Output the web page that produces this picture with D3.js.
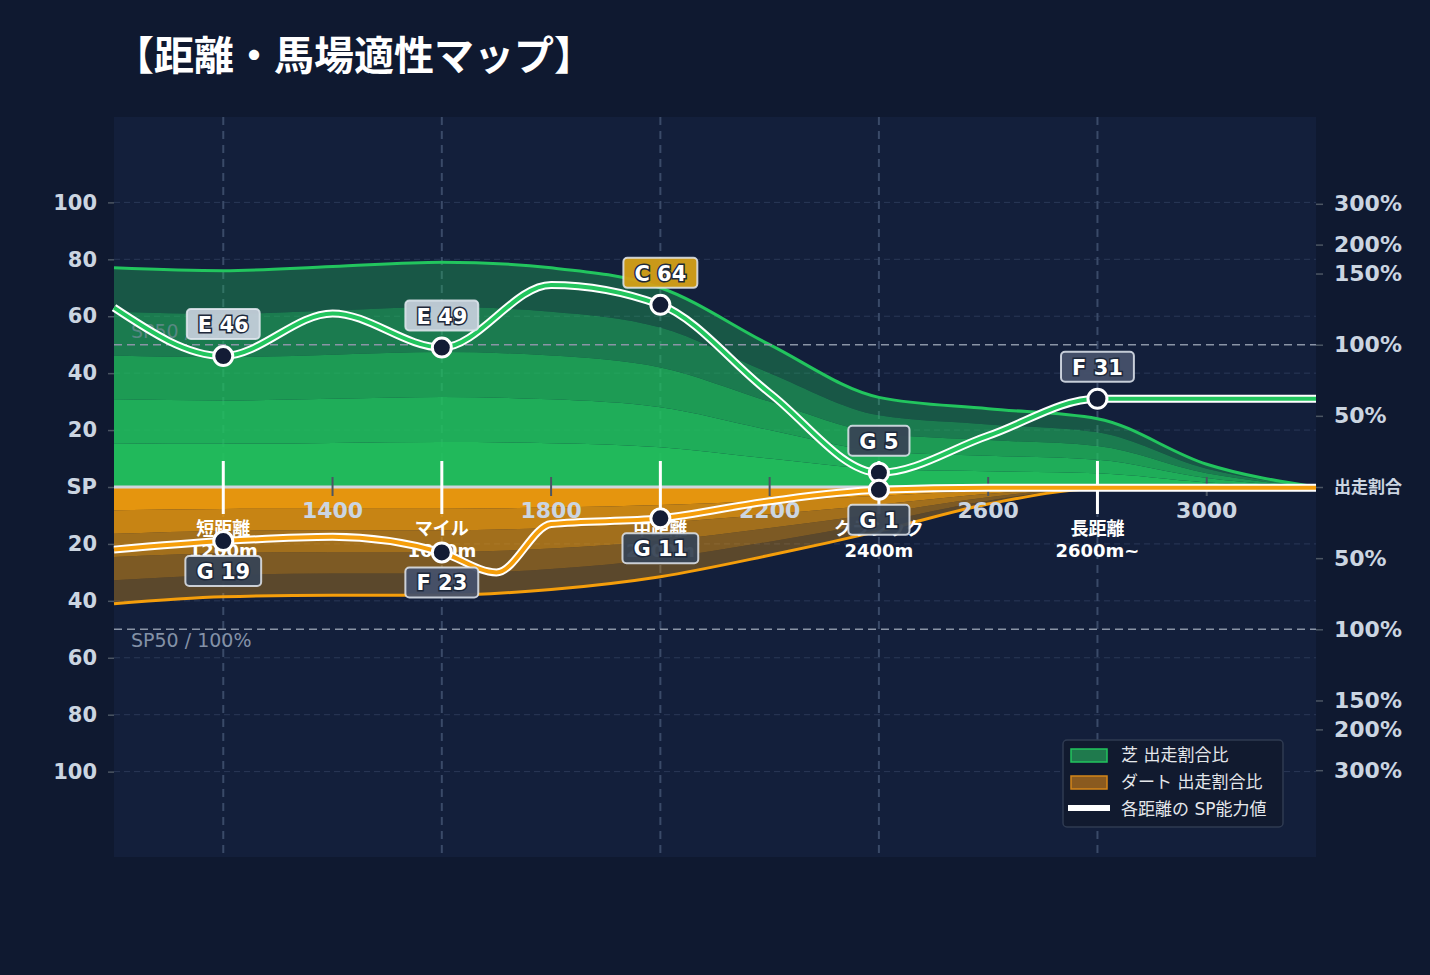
<!DOCTYPE html>
<html>
<head>
<meta charset="utf-8">
<title>距離・馬場適性マップ</title>
<script src="https://d3js.org/d3.v7.min.js"></script>
<style>
  body { margin: 0; background: #0f1930; }
  text { font-family: "DejaVu Sans", "Noto Sans CJK JP", sans-serif; }
  .axis path { display: none; }
  .axis line { stroke: #4b5563; stroke-width: 1.5; }
  .axis text { fill: #cbd5e1; font-weight: bold; }
</style>
</head>
<body>
<div id="chart"></div>
<script>
// distance grid for the share envelopes
const distances = [1000, 1200, 1400, 1600, 1800, 2000, 2200, 2400, 2600, 2800, 3000, 3200];
const turfShare = [77, 76, 77.5, 79, 77, 70, 50, 31.5, 27.5, 24, 8, 0];
const dirtShare = [41, 38.6, 38, 38, 36, 31.5, 24, 15.5, 6, 0.5, 0, 0];

// SP curves
const turfSPDist = [1000, 1200, 1400, 1600, 1800, 2000, 2200, 2400, 2600, 2800, 3000, 3200];
const turfSP = [63, 46, 61, 49, 71, 64, 33, 5, 18, 31, 31, 31];
const dirtSPDist = [1000, 1200, 1400, 1600, 1700, 1800, 2000, 2200, 2400, 2600, 2800, 3000, 3200];
const dirtSP = [22, 19, 17.5, 23, 30, 13, 11, 5, 1, 0.3, 0.3, 0.3, 0.3];

// distance categories
const categories = ["短距離", "マイル", "中距離", "クラシック", "長距離"];
const categoryDist = [1200, 1600, 2000, 2400, 2800];
const categoryLabel = ["1200m", "1600m", "2000m", "2400m", "2600m~"];
const turfGrade = ["E", "E", "C", "G", "F"];
const turfScore = [46, 49, 64, 5, 31];
const dirtGrade = ["G", "F", "G", "G", null];
const dirtScore = [19, 23, 11, 1, null];

// ticks
const xTicks = [1400, 1800, 2200, 2600, 3000];
const spTicks = [100, 80, 60, 40, 20, 0, -20, -40, -60, -80, -100];
const ratioTicks = [300, 200, 150, 100, 50, 0, -50, -100, -150, -200, -300];

const gradeColor = { C: "#d4a017", E: "#c3ced9", F: "#46516a", G: "#384555" };

const W = 1430, H = 975;
const plot = { left: 114, right: 1316, top: 117, bottom: 857 };

const svg = d3.select("#chart").append("svg")
  .attr("width", W).attr("height", H);

svg.append("rect").attr("width", W).attr("height", H).attr("fill", "#0f1930");
svg.append("rect")
  .attr("x", plot.left).attr("y", plot.top)
  .attr("width", plot.right - plot.left).attr("height", plot.bottom - plot.top)
  .attr("fill", "#131f3b");

const x = d3.scaleLinear().domain([1000, 3200]).range([plot.left, plot.right]);
const y = d3.scaleLinear().domain([-130, 130]).range([plot.bottom, plot.top]);

// ratio -> position on SP scale (linear to 150%, log above)
const ratioToSP = p => {
  const a = Math.abs(p);
  const v = a <= 150 ? a / 2 : 75 + 24.5 * Math.log2(a / 150);
  return p < 0 ? -v : v;
};

// title
svg.append("text")
  .attr("x", 114).attr("y", 70)
  .attr("fill", "#ffffff")
  .attr("font-size", 40).attr("font-weight", "bold")
  .style("font-family", "'Noto Sans CJK JP', sans-serif")
  .text("【距離・馬場適性マップ】");

// horizontal grid
svg.append("g").selectAll("line")
  .data(spTicks.filter(d => d !== 0))
  .join("line")
    .attr("x1", plot.left).attr("x2", plot.right)
    .attr("y1", d => y(d)).attr("y2", d => y(d))
    .attr("stroke", "#2a3857").attr("stroke-width", 1)
    .attr("stroke-dasharray", "6,4");

// vertical category grid
svg.append("g").selectAll("line")
  .data(categoryDist)
  .join("line")
    .attr("x1", d => x(d)).attr("x2", d => x(d))
    .attr("y1", plot.top).attr("y2", plot.bottom)
    .attr("stroke", "#3a4a68").attr("stroke-width", 2)
    .attr("stroke-dasharray", "8,6");

// share bands
const fractions = [1, 0.8, 0.6, 0.4, 0.2];
const turfOpacity = [0.34, 0.56, 0.75, 0.86, 0.93];
const dirtOpacity = [0.32, 0.47, 0.63, 0.8, 0.93];
const idx = d3.range(distances.length);

fractions.forEach((f, i) => {
  const inner = fractions[i + 1] || 0;
  const turfBand = d3.area()
    .x(j => x(distances[j]))
    .y0(j => y(turfShare[j] * inner))
    .y1(j => y(turfShare[j] * f))
    .curve(d3.curveMonotoneX);
  svg.append("path").datum(idx)
    .attr("d", turfBand)
    .attr("fill", "#22c55e").attr("fill-opacity", turfOpacity[i]);

  const dirtBand = d3.area()
    .x(j => x(distances[j]))
    .y0(j => y(-dirtShare[j] * inner))
    .y1(j => y(-dirtShare[j] * f))
    .curve(d3.curveMonotoneX);
  svg.append("path").datum(idx)
    .attr("d", dirtBand)
    .attr("fill", "#f59e0b").attr("fill-opacity", dirtOpacity[i]);
});

// envelope lines
svg.append("path").datum(idx)
  .attr("d", d3.line().x(j => x(distances[j])).y(j => y(turfShare[j])).curve(d3.curveMonotoneX))
  .attr("fill", "none").attr("stroke", "#22c55e").attr("stroke-width", 3);

// SP50 lines and labels
svg.append("g").selectAll("line")
  .data([50, -50])
  .join("line")
    .attr("x1", plot.left).attr("x2", plot.right)
    .attr("y1", d => y(d)).attr("y2", d => y(d))
    .attr("stroke", "#8a94a6").attr("stroke-width", 1.5)
    .attr("stroke-dasharray", "8,5");
svg.append("g").selectAll("text")
  .data([50, -50])
  .join("text")
    .attr("x", 131).attr("y", d => d > 0 ? y(d) - 7 : y(d) + 18)
    .attr("fill", "#8391a7").attr("font-size", 19)
    .attr("fill-opacity", d => d > 0 ? 0.6 : 1)
    .text("SP50 / 100%");

// baseline
svg.append("line")
  .attr("x1", plot.left).attr("x2", plot.right)
  .attr("y1", y(0)).attr("y2", y(0))
  .attr("stroke", "#cfd5de").attr("stroke-width", 3);

svg.append("path").datum(idx)
  .attr("d", d3.line().x(j => x(distances[j])).y(j => y(-dirtShare[j])).curve(d3.curveMonotoneX))
  .attr("fill", "none").attr("stroke", "#f59e0b").attr("stroke-width", 3);

// left axis
svg.append("g")
  .attr("class", "axis")
  .attr("transform", `translate(${plot.left},0)`)
  .call(d3.axisLeft(y).tickValues(spTicks).tickSize(6).tickPadding(11)
    .tickFormat(d => d === 0 ? "SP" : Math.abs(d)))
  .selectAll("text").attr("font-size", 21);

// right axis
svg.append("g")
  .attr("class", "axis")
  .attr("transform", `translate(${plot.right},0)`)
  .call(d3.axisRight(y)
    .tickValues(ratioTicks.map(ratioToSP)).tickSize(7).tickPadding(11)
    .tickFormat((d, i) => ratioTicks[i] === 0 ? "出走割合" : Math.abs(ratioTicks[i]) + "%"))
  .selectAll("text")
    .attr("font-size", (d, i) => ratioTicks[i] === 0 ? 17 : 22)
    .attr("fill", (d, i) => ratioTicks[i] === 0 ? "#e5e7eb" : "#cbd5e1");

// x axis minor ticks and labels
const xAxis = svg.append("g");
xAxis.selectAll("line")
  .data(xTicks)
  .join("line")
    .attr("x1", d => x(d)).attr("x2", d => x(d))
    .attr("y1", y(0) - 10).attr("y2", y(0) + 9)
    .attr("stroke", "#4b5563").attr("stroke-width", 2);
xAxis.selectAll("text")
  .data(xTicks)
  .join("text")
    .attr("x", d => x(d)).attr("y", y(0) + 25)
    .attr("text-anchor", "middle").attr("dominant-baseline", "middle")
    .attr("fill", "#cbd5e1").attr("font-size", 22).attr("font-weight", "bold")
    .text(d => d);

// category ticks and labels
const cat = svg.append("g");
cat.selectAll("line")
  .data(categoryDist)
  .join("line")
    .attr("x1", d => x(d)).attr("x2", d => x(d))
    .attr("y1", y(0) - 26).attr("y2", y(0) + 27)
    .attr("stroke", "#ffffff").attr("stroke-width", 3);
cat.selectAll("text.name")
  .data(categoryDist)
  .join("text")
    .attr("class", "name")
    .attr("x", d => x(d)).attr("y", y(0) + 43)
    .attr("text-anchor", "middle").attr("dominant-baseline", "middle")
    .attr("fill", "#ffffff").attr("font-size", 18).attr("font-weight", "bold")
    .text((d, i) => categories[i]);
cat.selectAll("text.dist")
  .data(categoryDist)
  .join("text")
    .attr("class", "dist")
    .attr("x", d => x(d)).attr("y", y(0) + 65)
    .attr("text-anchor", "middle").attr("dominant-baseline", "middle")
    .attr("fill", "#ffffff").attr("font-size", 18).attr("font-weight", "bold")
    .text((d, i) => categoryLabel[i]);

// SP lines
function spLine(dists, vals, sign, color) {
  const line = d3.line()
    .x(j => x(dists[j])).y(j => y(sign * vals[j]))
    .curve(d3.curveMonotoneX);
  const data = d3.range(dists.length);
  svg.append("path").datum(data).attr("d", line)
    .attr("fill", "none").attr("stroke", "#ffffff").attr("stroke-width", 8);
  svg.append("path").datum(data).attr("d", line)
    .attr("fill", "none").attr("stroke", color).attr("stroke-width", 4);
}
spLine(turfSPDist, turfSP, 1, "#22c55e");
spLine(dirtSPDist, dirtSP, -1, "#f59e0b");

// points
const points = [];
categoryDist.forEach((d, i) => {
  points.push({ d, v: turfScore[i], g: turfGrade[i], sign: 1 });
  if (dirtScore[i] != null) points.push({ d, v: dirtScore[i], g: dirtGrade[i], sign: -1 });
});

svg.append("g").selectAll("circle")
  .data(points)
  .join("circle")
    .attr("cx", p => x(p.d)).attr("cy", p => y(p.sign * p.v))
    .attr("r", 9.5)
    .attr("fill", "#131c35").attr("stroke", "#ffffff").attr("stroke-width", 3);

// grade badges
const badges = svg.append("g").selectAll("g")
  .data(points)
  .join("g")
    .attr("transform", p => `translate(${x(p.d)},${y(p.sign * p.v) + (p.sign > 0 ? -32 : 30)})`);

badges.append("rect");
badges.append("text")
  .attr("text-anchor", "middle").attr("dominant-baseline", "central")
  .attr("y", 1)
  .attr("font-size", 21).attr("font-weight", "bold")
  .attr("fill", "#ffffff")
  .attr("stroke", "#1e293b").attr("stroke-width", 3)
  .attr("paint-order", "stroke")
  .text(p => `${p.g} ${p.v}`);

badges.each(function () {
  const g = d3.select(this);
  const w = g.select("text").node().getComputedTextLength() + 22;
  g.select("rect")
    .attr("x", -w / 2).attr("y", -15)
    .attr("width", w).attr("height", 30)
    .attr("rx", 4)
    .attr("fill", p => gradeColor[p.g])
    .attr("fill-opacity", 0.95)
    .attr("stroke", "#e2e8f0").attr("stroke-opacity", 0.85)
    .attr("stroke-width", 2);
});

// legend
const lg = svg.append("g").attr("transform", "translate(1063,740)");
lg.append("rect")
  .attr("width", 220).attr("height", 87).attr("rx", 4)
  .attr("fill", "#111a2f").attr("stroke", "#2f3b52").attr("stroke-width", 1.5);
lg.append("rect")
  .attr("x", 8).attr("y", 9).attr("width", 36).attr("height", 13)
  .attr("fill", "#1f7a4d").attr("stroke", "#22c55e").attr("stroke-width", 1.5);
lg.append("rect")
  .attr("x", 8).attr("y", 36).attr("width", 36).attr("height", 13)
  .attr("fill", "#8a5a1f").attr("stroke", "#d4861a").attr("stroke-width", 1.5);
lg.append("line")
  .attr("x1", 5).attr("x2", 47).attr("y1", 68).attr("y2", 68)
  .attr("stroke", "#ffffff").attr("stroke-width", 6);
lg.selectAll("text.item")
  .data(["芝 出走割合比", "ダート 出走割合比", "各距離の SP能力値"])
  .join("text")
    .attr("class", "item")
    .attr("x", 58).attr("y", (d, i) => 16 + i * 27)
    .attr("dominant-baseline", "middle")
    .attr("fill", "#e5e7eb").attr("font-size", 17)
    .text(d => d);
</script>
</body>
</html>
